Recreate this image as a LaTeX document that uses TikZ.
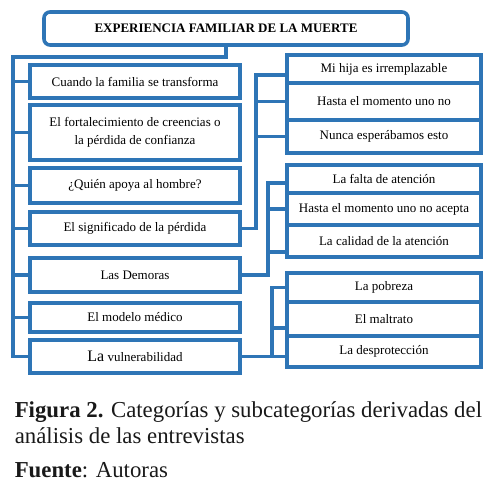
\documentclass[tikz,border=0pt]{standalone}
\usepackage{fontspec}
\setmainfont{Liberation Serif}
\usetikzlibrary{positioning, calc}
\definecolor{boxblue}{RGB}{46,117,182}

\begin{document}
\begin{tikzpicture}[
  x=1pt, y=-1pt,
  line width=3.6pt,
  box/.style     = {draw=boxblue, fill=white, rectangle, outer sep=0pt, inner sep=2pt,
                    align=center, font=\fontsize{13}{18}\selectfont},
  title/.style   = {box, rounded corners=6pt, minimum width=364pt,
                    minimum height=33pt, font=\bfseries\fontsize{13}{15}\selectfont},
  leftbox/.style = {box, minimum width=210pt},
  subbox/.style  = {box, minimum width=194pt},
  link/.style    = {draw=boxblue},
  caption/.style = {inner sep=0pt, anchor=base west, text=black!90,
                    font=\fontsize{22.8}{26}\selectfont},
]
  \useasboundingbox (0,0) rectangle (488,485);

  \node[title] (title) at (226,28.5) {EXPERIENCIA FAMILIAR DE LA MUERTE};

  % Categories
  \node[leftbox, minimum height=33pt]                   (b1) at (135,81.5) {Cuando la familia se transforma};
  \node[leftbox, minimum height=55pt, below=7pt of b1]  (b2) {El fortalecimiento de creencias o\\la pérdida de confianza};
  \node[leftbox, minimum height=35pt, below=8pt of b2]  (b3) {¿Quién apoya al hombre?};
  \node[leftbox, minimum height=33pt, below=9pt of b3]  (b4) {El significado de la pérdida};
  \node[leftbox, minimum height=34pt, below=13pt of b4] (b5) {Las Demoras};
  \node[leftbox, minimum height=29pt, below=11pt of b5] (b6) {El modelo médico};
  \node[leftbox, minimum height=33pt, below=8pt of b6]  (b7) {{\fontsize{16}{18}\selectfont La} vulnerabilidad};

  % Subcategories
  \node[subbox, minimum height=28pt]                  (r1) at (384,69) {Mi hija es irremplazable};
  \node[subbox, minimum height=37pt, below=0pt of r1] (r2) {Hasta el momento uno no};
  \node[subbox, minimum height=33pt, below=0pt of r2] (r3) {Nunca esperábamos esto};

  \node[subbox, minimum height=28pt]                  (r4) at (384,179) {La falta de atención};
  \node[subbox, minimum height=32pt, below=0pt of r4] (r5) {Hasta el momento uno no acepta};
  \node[subbox, minimum height=32pt, below=0pt of r5] (r6) {La calidad de la atención};

  \node[subbox, minimum height=29pt]                  (r7) at (384,287.5) {La pobreza};
  \node[subbox, minimum height=34pt, below=0pt of r7] (r8) {El maltrato};
  \node[subbox, minimum height=31pt, below=0pt of r8] (r9) {La desprotección};

  % Main spine
  \coordinate (spine) at (13,57);
  \draw[link] (title.south) |- (spine) |- (b7.west);
  \foreach \b in {b1,b2,b3,b4,b5,b6}
    \draw[link] (spine |- \b.west) -- (\b.west);

  % Brackets to subcategories
  \coordinate[right=16pt of b4.east] (k1);
  \coordinate (t1) at ([yshift=-6pt]r1.west);
  \draw[link] (b4.east) -- (k1) |- (t1);
  \draw[link] (k1 |- r2.west) -- (r2.west);
  \draw[link] (k1 |- r3.west) -- (r3.west);

  \coordinate[right=28pt of b5.east] (k2);
  \coordinate (t4) at ([yshift=-4pt]r4.west);
  \coordinate (t6) at ([yshift=-11pt]r6.west);
  \draw[link] (b5.east) -- (k2) |- (t4);
  \draw[link] (k2 |- r5.west) -- (r5.west);
  \draw[link] (k2 |- t6) -- (t6);

  \coordinate[right=32pt of b7.east] (k3);
  \coordinate (t8) at ([yshift=-9pt]r8.west);
  \draw[link] (b7.east) -- (k3 -| r9.west);
  \draw[link] (k3) |- (r7.west);
  \draw[link] (k3 |- t8) -- (t8);

  % Caption
  \node[caption] (cap1) at (13,417) {\textbf{Figura 2.} Categorías y subcategorías derivadas del};
  \node[caption] (cap2) at (13,443) {análisis de las entrevistas};
  \node[caption] (src)  at (13,477) {\textbf{Fuente}: Autoras};
\end{tikzpicture}
\end{document}
